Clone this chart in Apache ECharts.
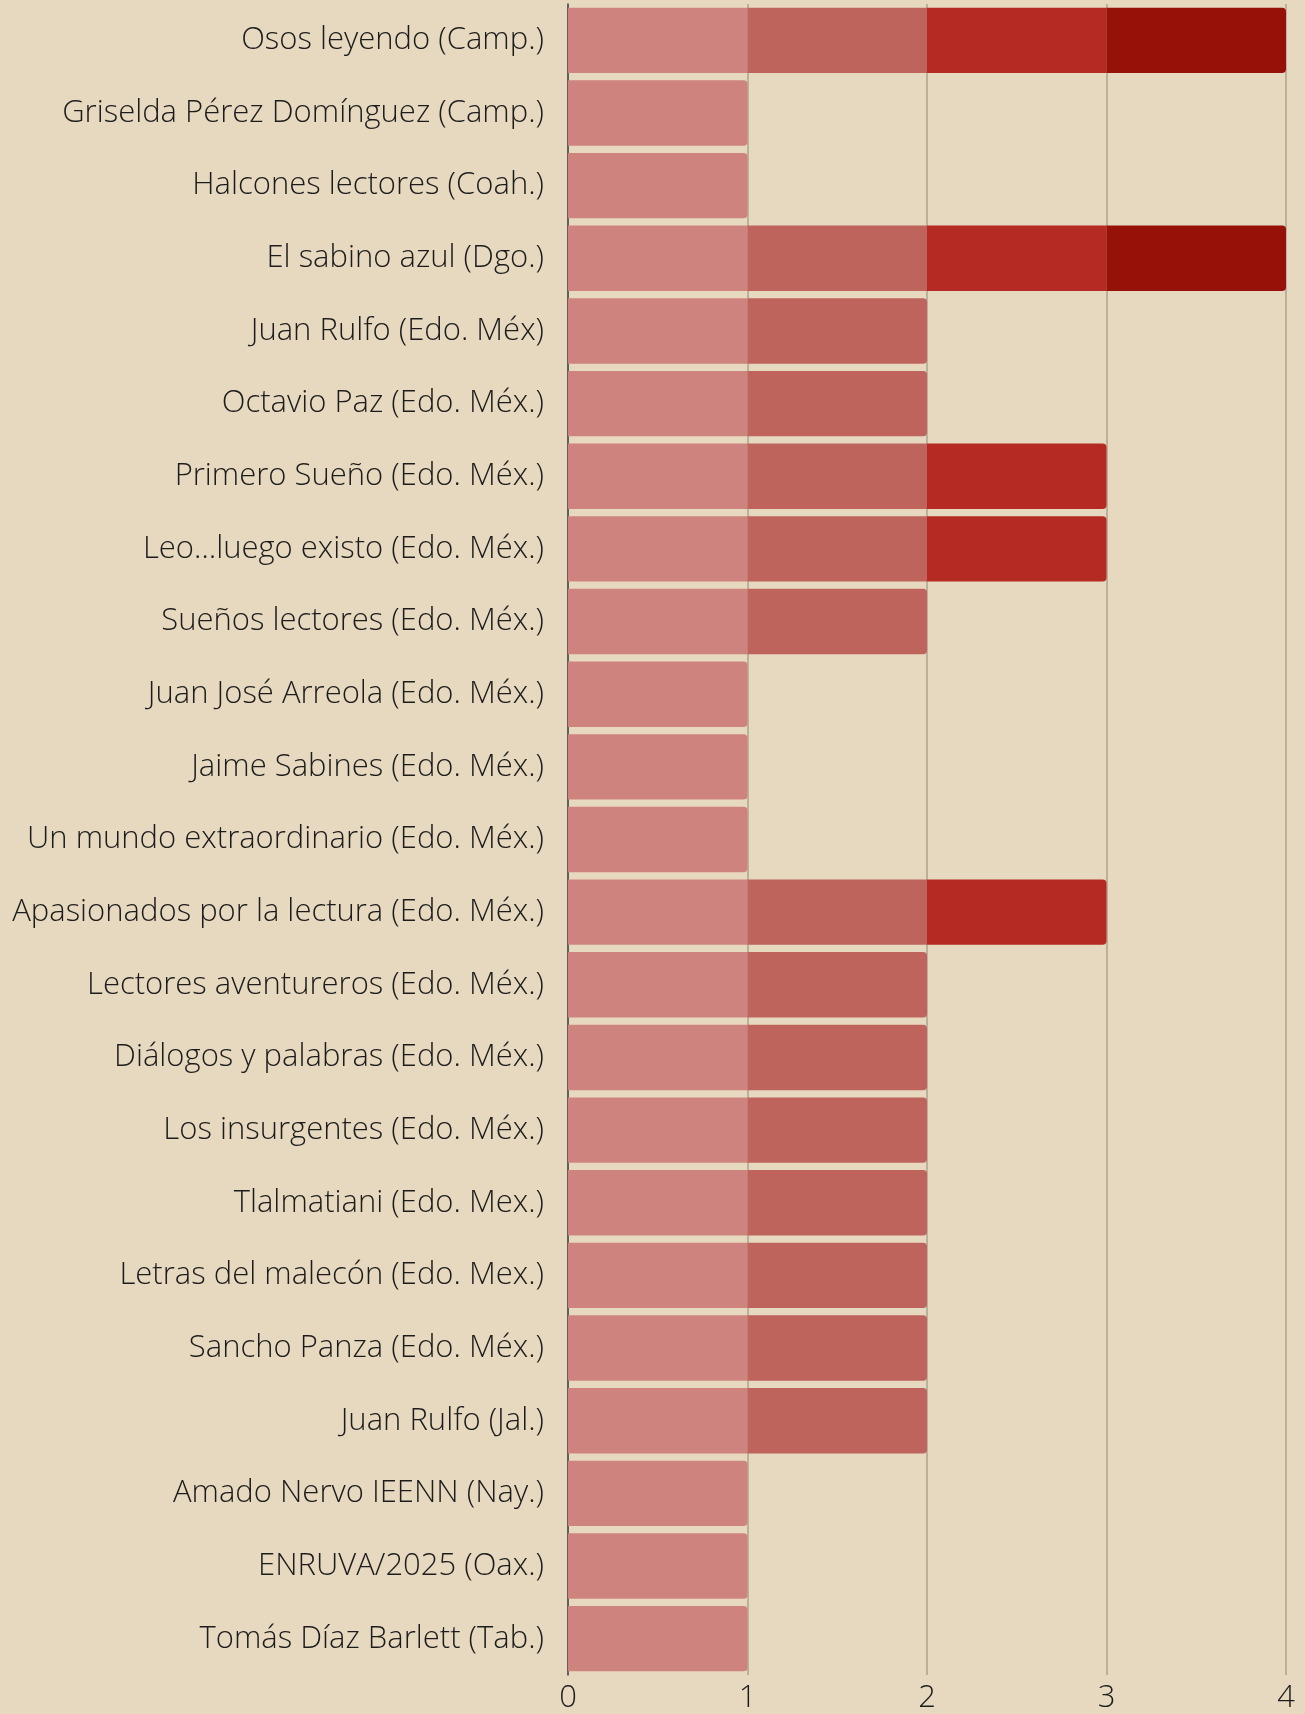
<!DOCTYPE html>
<html>
<head>
<meta charset="utf-8">
<script src="https://cdn.jsdelivr.net/npm/echarts@6/dist/echarts.min.js"></script>
<style>
html,body{margin:0;padding:0;background:#E7D9BF;}
#c{width:1305px;height:1714px;}
</style>
</head>
<body>
<div id="c"></div>
<script>
const categories = [
  "Osos leyendo (Camp.)",
  "Griselda Pérez Domínguez (Camp.)",
  "Halcones lectores (Coah.)",
  "El sabino azul (Dgo.)",
  "Juan Rulfo (Edo. Méx)",
  "Octavio Paz (Edo. Méx.)",
  "Primero Sueño (Edo. Méx.)",
  "Leo…luego existo (Edo. Méx.)",
  "Sueños lectores (Edo. Méx.)",
  "Juan José Arreola (Edo. Méx.)",
  "Jaime Sabines (Edo. Méx.)",
  "Un mundo extraordinario (Edo. Méx.)",
  "Apasionados por la lectura (Edo. Méx.)",
  "Lectores aventureros (Edo. Méx.)",
  "Diálogos y palabras (Edo. Méx.)",
  "Los insurgentes (Edo. Méx.)",
  "Tlalmatiani (Edo. Mex.)",
  "Letras del malecón (Edo. Mex.)",
  "Sancho Panza (Edo. Méx.)",
  "Juan Rulfo (Jal.)",
  "Amado Nervo IEENN (Nay.)",
  "ENRUVA/2025 (Oax.)",
  "Tomás Díaz Barlett (Tab.)"
];
const series1 = [1,1,1,1,1,1,1,1,1,1,1,1,1,1,1,1,1,1,1,1,1,1,1];
const series2 = [1,0,0,1,1,1,1,1,1,0,0,0,1,1,1,1,1,1,1,1,0,0,0];
const series3 = [1,0,0,1,0,0,1,1,0,0,0,0,1,0,0,0,0,0,0,0,0,0,0];
const series4 = [1,0,0,1,0,0,0,0,0,0,0,0,0,0,0,0,0,0,0,0,0,0,0];
const xTicks = [0,1,2,3,4];

const colors = ['#CF837E','#BE645C','#B52A22','#961108'];
const all = [series1, series2, series3, series4];

function buildData(idx){
  return all[idx].map((v,i)=>{
    const isTop = v>0 && all.slice(idx+1).every(s=>!s[i]);
    return {value: v>0 ? v : null, itemStyle: isTop ? {borderRadius:[0,4,4,0]} : {borderRadius:0}};
  });
}

const chart = echarts.init(document.getElementById('c'), null, {renderer:'canvas'});
chart.setOption({
  backgroundColor:'#E7D9BF',
  animation:false,
  grid:{left:568, right:19, top:4, bottom:35, containLabel:false},
  xAxis:{
    type:'value', min:0, max:4, interval:1,
    axisLine:{show:false}, axisTick:{show:false},
    splitLine:{show:true, lineStyle:{color:'#ABA291', width:1.5}},
    axisLabel:{
      color:'#1c1c1c', fontFamily:'Open Sans', fontWeight:300, fontSize:31, margin:8,
      formatter:(v)=> xTicks.includes(v) ? String(v) : ''
    }
  },
  yAxis:{
    type:'category', data:categories, inverse:true,
    axisLine:{show:true, lineStyle:{color:'#444', width:1.5}},
    axisTick:{show:false},
    axisLabel:{color:'#1c1c1c', fontFamily:'Open Sans', fontWeight:300, fontSize:31, margin:24}
  },
  series: all.map((s,idx)=>({
    type:'bar', stack:'total', barCategoryGap:'10%',
    data: buildData(idx),
    itemStyle:{color:colors[idx]}
  }))
});
</script>
</body>
</html>
